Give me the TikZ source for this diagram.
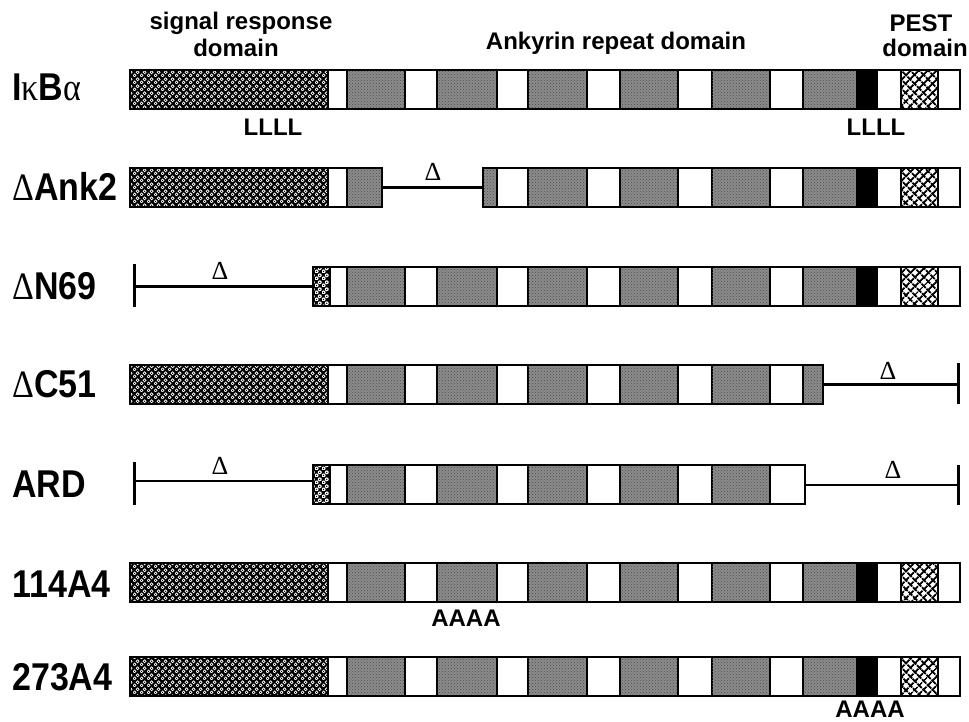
\documentclass[tikz,border=0pt]{standalone}
\usepackage{fontspec}
\setmainfont{Liberation Sans}
\newfontfamily\symf{Liberation Serif}
\usetikzlibrary{patterns,patterns.meta}

\tikzdeclarepattern{
  name=srrings,
  type=uncolored,
  bounding box={(0pt,0pt) and (7pt,7pt)},
  tile size={(7pt,7pt)},
  code={
    \fill (1.75pt,1.75pt) circle (2.2pt);
    \fill (5.25pt,5.25pt) circle (2.2pt);
  }
}
\tikzdeclarepattern{
  name=srcentres,
  type=uncolored,
  bounding box={(0pt,0pt) and (7pt,7pt)},
  tile size={(7pt,7pt)},
  code={
    \fill (1.75pt,1.75pt) circle (0.8pt);
    \fill (5.25pt,5.25pt) circle (0.8pt);
  }
}

\tikzset{
  seg/.style={draw=black, line width=1.8pt},
  sseg/.style={seg, fill=black,
    postaction={pattern=srrings, pattern color=white},
    postaction={pattern=srcentres, pattern color=black}},
  wseg/.style={seg, fill=white},
  aseg/.style={seg, fill=black!45,
    postaction={pattern=crosshatch dots, pattern color=black!70}},
  kseg/.style={seg, fill=black},
  pseg/.style={seg, fill=white,
    postaction={pattern={Lines[angle=45,distance=6.5pt,line width=2pt]}, pattern color=black},
    postaction={pattern={Lines[angle=-45,distance=6.5pt,line width=2pt]}, pattern color=black}},
  outline/.style={draw=black, line width=2.6pt},
  delline/.style={draw=black, line width=2.2pt},
  tickline/.style={draw=black, line width=3pt},
  rowlabel/.style={anchor=base west, inner sep=0pt, font=\fontsize{34}{38}\selectfont\bfseries},
  head/.style={anchor=base, inner sep=0pt, font=\fontsize{24}{27}\selectfont\bfseries},
  mut/.style={anchor=base, inner sep=0pt, font=\fontsize{24}{26}\selectfont\bfseries},
  deltalabel/.style={anchor=base, inner sep=0pt, font=\fontsize{26}{28}\selectfont\symf},
}
\newcommand\tall[1]{\scalebox{1}[1.14]{#1}}

\newcommand\bx[4]{\path[#4] (#1,#3) rectangle (#2,{#3+39});}
\newcommand\outl[3]{\path[outline] (#1,#3) rectangle (#2,{#3+39});}
\newcommand\headsegs[1]{%
  \bx{130}{328}{#1}{sseg}\bx{328}{347}{#1}{wseg}\bx{347}{405}{#1}{aseg}%
  \bx{405}{437}{#1}{wseg}\bx{437}{497}{#1}{aseg}}
\newcommand\midsegs[1]{%
  \bx{497}{528}{#1}{wseg}\bx{528}{587}{#1}{aseg}\bx{587}{620}{#1}{wseg}%
  \bx{620}{678}{#1}{aseg}\bx{678}{712}{#1}{wseg}\bx{712}{770}{#1}{aseg}}
\newcommand\tailsegs[1]{%
  \bx{770}{803}{#1}{wseg}\bx{803}{857}{#1}{aseg}\bx{857}{877}{#1}{kseg}%
  \bx{877}{901}{#1}{wseg}\bx{901}{938}{#1}{pseg}\bx{938}{960}{#1}{wseg}}
\newcommand\nhead[1]{%
  \bx{313}{330}{#1}{sseg}\bx{330}{347}{#1}{wseg}\bx{347}{405}{#1}{aseg}%
  \bx{405}{437}{#1}{wseg}\bx{437}{497}{#1}{aseg}}

\begin{document}
\begin{tikzpicture}[x=1pt,y=-1pt]
\useasboundingbox (0,0) rectangle (969,721);
\fill[white] (0,0) rectangle (969,721);

% headers
\node[head] (h1) at (241,29) {signal response};
\node[head] (h2) at (236,56) {domain};
\node[head] (h3) at (616,49) {Ankyrin repeat domain};
\node[head] (h4) at (921,31) {PEST};
\node[head] (h5) at (925,56) {domain};

% row 1: IkBa
\headsegs{70}\midsegs{70}\tailsegs{70}\outl{130}{960}{70}
\node[rowlabel] (l1) at (12,100) {\tall{I{\symf\mdseries κ}B{\symf\mdseries α}}};
\node[mut] (m1) at (273,135) {LLLL};
\node[mut] (m2) at (876,135) {LLLL};

% row 2: dAnk2
\bx{130}{328}{168}{sseg}\bx{328}{347}{168}{wseg}\bx{347}{382}{168}{aseg}
\outl{130}{382}{168}
\bx{483}{497}{168}{aseg}\midsegs{168}\tailsegs{168}\outl{483}{960}{168}
\coordinate (a2l) at (382,187.5);
\coordinate (a2r) at (483,187.5);
\draw[delline] (a2l) -- (a2r);
\node[deltalabel] (d2) at (433,180) {Δ};
\node[rowlabel] (l2) at (12,200) {\tall{{\symf\mdseries Δ}Ank2}};

% row 3: dN69
\nhead{267}\midsegs{267}\tailsegs{267}\outl{313}{960}{267}
\coordinate (n3t) at (134,264);
\coordinate (n3b) at (134,307);
\coordinate (n3l) at (134,286.5);
\coordinate (n3r) at (313,286.5);
\draw[tickline] (n3t) -- (n3b);
\draw[delline] (n3l) -- (n3r);
\node[deltalabel] (d3) at (220,279) {Δ};
\node[rowlabel] (l3) at (12,299) {\tall{{\symf\mdseries Δ}N69}};

% row 4: dC51
\headsegs{365}\midsegs{365}\bx{770}{803}{365}{wseg}\bx{803}{823}{365}{aseg}
\outl{130}{823}{365}
\coordinate (c4l) at (823,384.5);
\coordinate (c4r) at (958,384.5);
\coordinate (c4t) at (958,363);
\coordinate (c4b) at (958,404);
\draw[delline] (c4l) -- (c4r);
\draw[tickline] (c4t) -- (c4b);
\node[deltalabel] (d4) at (888,379) {Δ};
\node[rowlabel] (l4) at (12,397) {\tall{{\symf\mdseries Δ}C51}};

% row 5: ARD
\nhead{465}\midsegs{465}\bx{770}{805}{465}{wseg}\outl{313}{805}{465}
\coordinate (r5t) at (134,462);
\coordinate (r5b) at (134,505);
\coordinate (r5l) at (134,481);
\coordinate (r5r) at (313,481);
\coordinate (r5l2) at (805,485);
\coordinate (r5r2) at (958,485);
\coordinate (r5t2) at (958,465);
\coordinate (r5b2) at (958,505);
\draw[tickline] (r5t) -- (r5b);
\draw[delline] (r5l) -- (r5r);
\draw[delline] (r5l2) -- (r5r2);
\draw[tickline] (r5t2) -- (r5b2);
\node[deltalabel] (d5) at (220,474) {Δ};
\node[deltalabel] (d6) at (893,478) {Δ};
\node[rowlabel] (l5) at (12,497) {\tall{ARD}};

% row 6: 114A4
\headsegs{563}\midsegs{563}\tailsegs{563}\outl{130}{960}{563}
\node[mut] (m3) at (466,626) {AAAA};
\node[rowlabel] (l6) at (12,597) {\tall{114A4}};

% row 7: 273A4
\headsegs{657}\midsegs{657}\tailsegs{657}\outl{130}{960}{657}
\node[mut] (m4) at (870,717) {AAAA};
\node[rowlabel] (l7) at (12,690) {\tall{273A4}};
\end{tikzpicture}
\end{document}
